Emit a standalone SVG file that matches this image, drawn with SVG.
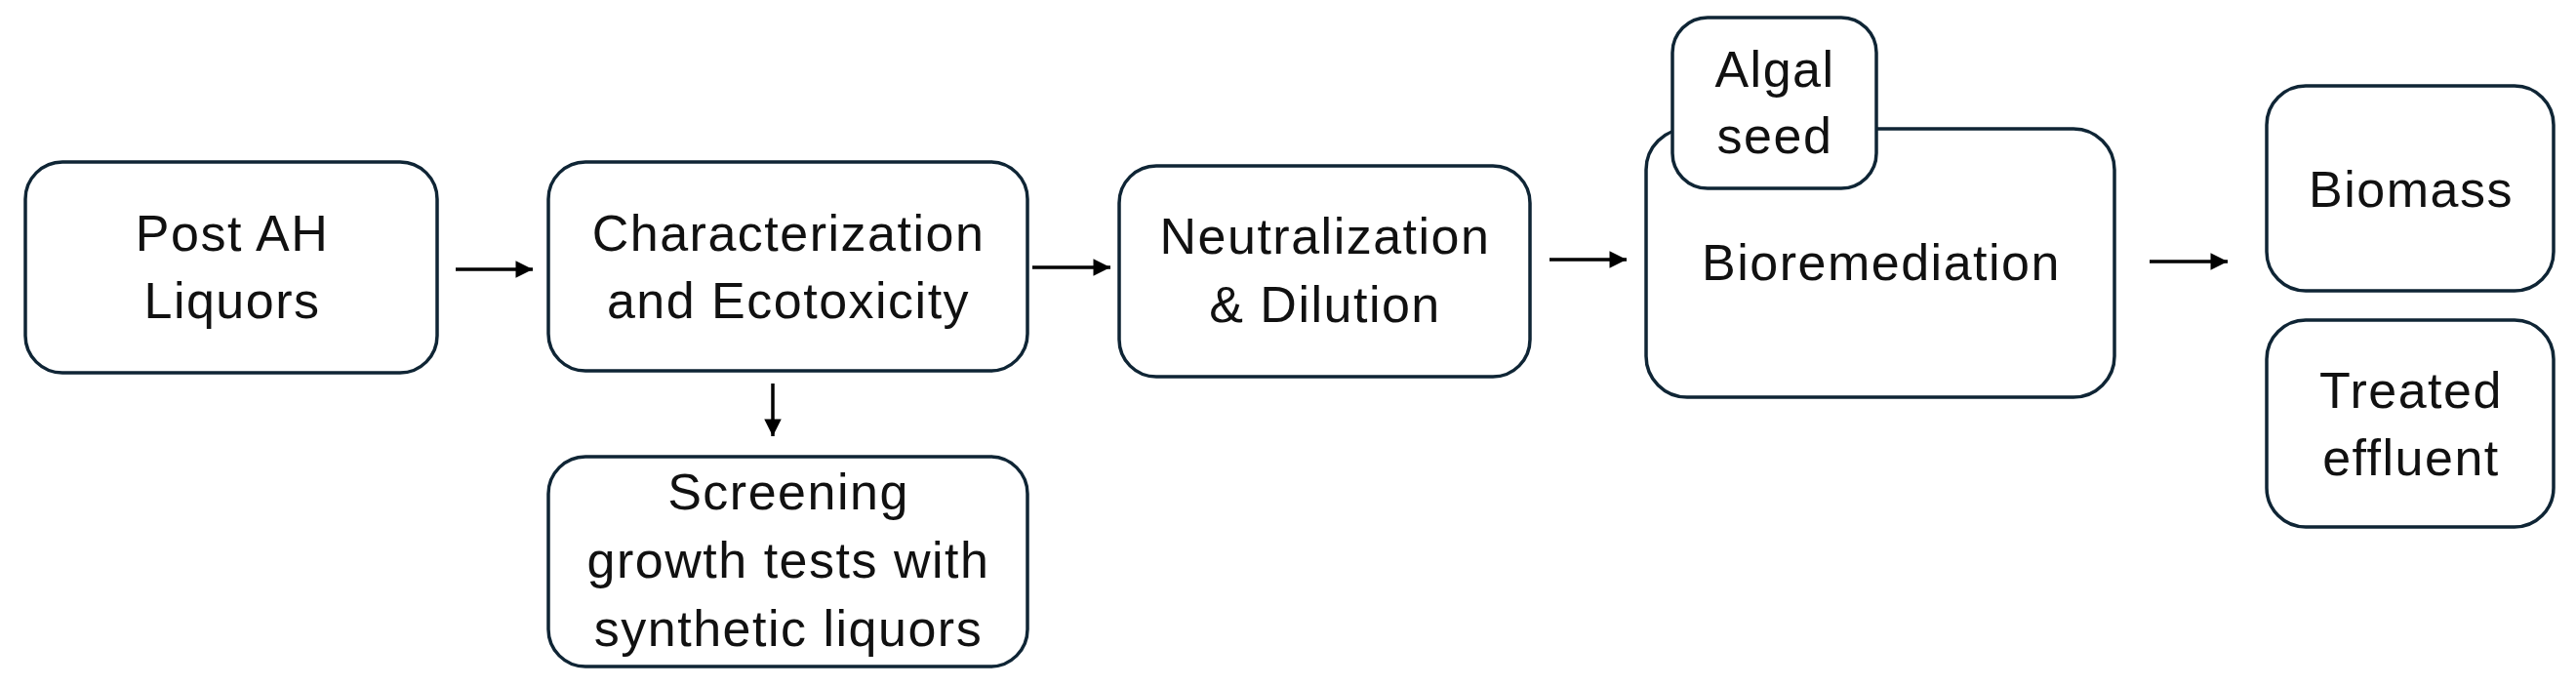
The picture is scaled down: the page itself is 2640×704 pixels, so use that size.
<svg xmlns="http://www.w3.org/2000/svg" width="2640" height="704" viewBox="0 0 2640 704">
<style>
.box{fill:#ffffff;stroke:#0f2535;stroke-width:3.5}
.lbl{font-family:"Liberation Sans",Arial,sans-serif;font-size:52px;letter-spacing:1.5px;fill:#111111;text-anchor:middle}
.conn{stroke:#000000;stroke-width:3.5;fill:none;marker-end:url(#arr)}
</style>
<defs>
<marker id="arr" viewBox="0 0 10 10" refX="10" refY="5" markerWidth="6" markerHeight="5" orient="auto" markerUnits="strokeWidth">
<path d="M0,0 L10,5 L0,10 Z" fill="#000000"/>
</marker>
</defs>
<rect width="2640" height="704" fill="#ffffff"/>
<g id="connectors">
<line class="conn" x1="467" y1="276" x2="546" y2="276"/>
<line class="conn" x1="1058" y1="274" x2="1138" y2="274"/>
<line class="conn" x1="1588" y1="266" x2="1667" y2="266"/>
<line class="conn" x1="2203" y1="268" x2="2283" y2="268"/>
<line class="conn" x1="792" y1="393" x2="792" y2="447"/>
</g>
<g id="post-ah">
<rect class="box" x="26" y="166" width="422" height="216" rx="38"/>
<text class="lbl" x="238" y="257">Post AH</text>
<text class="lbl" x="238" y="326">Liquors</text>
</g>
<g id="characterization">
<rect class="box" x="562" y="166" width="491" height="214" rx="38"/>
<text class="lbl" x="808" y="257">Characterization</text>
<text class="lbl" x="808" y="326">and Ecotoxicity</text>
</g>
<g id="screening">
<rect class="box" x="562" y="468" width="491" height="215" rx="38"/>
<text class="lbl" x="808" y="522">Screening</text>
<text class="lbl" x="808" y="592">growth tests with</text>
<text class="lbl" x="808" y="662">synthetic liquors</text>
</g>
<g id="neutralization">
<rect class="box" x="1147" y="170" width="421" height="216" rx="38"/>
<text class="lbl" x="1358" y="260">Neutralization</text>
<text class="lbl" x="1358" y="330">&amp; Dilution</text>
</g>
<g id="bioremediation">
<rect class="box" x="1687" y="132" width="480" height="275" rx="42"/>
<text class="lbl" x="1928" y="287">Bioremediation</text>
</g>
<g id="algal-seed">
<rect class="box" x="1714" y="18" width="209" height="175" rx="36"/>
<text class="lbl" x="1819" y="89">Algal</text>
<text class="lbl" x="1819" y="157">seed</text>
</g>
<g id="biomass">
<rect class="box" x="2323" y="88" width="294" height="210" rx="40"/>
<text class="lbl" x="2471" y="212">Biomass</text>
</g>
<g id="treated-effluent">
<rect class="box" x="2323" y="328" width="294" height="212" rx="40"/>
<text class="lbl" x="2471" y="418">Treated</text>
<text class="lbl" x="2471" y="487">effluent</text>
</g>
</svg>
